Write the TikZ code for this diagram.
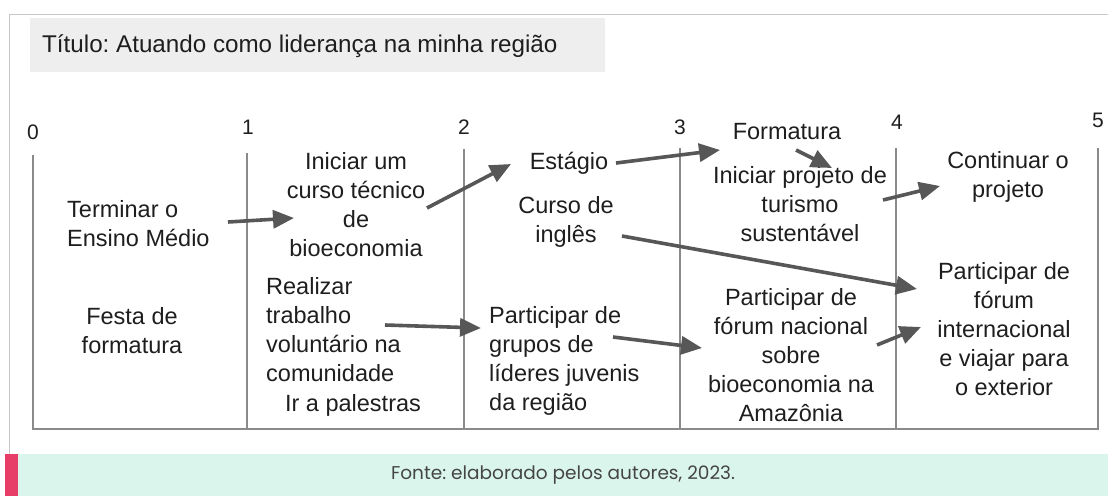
\documentclass[tikz,border=0pt]{standalone}
\usepackage{fontspec}
\setmainfont{Liberation Sans}
\newfontfamily\arialfont{Liberation Sans}
\newfontfamily\footfont{Poppins}
\frenchspacing
\usetikzlibrary{arrows.meta}
\definecolor{txt}{HTML}{1E1E1E}
\definecolor{arr}{HTML}{575757}
\definecolor{grid}{HTML}{8A8A8A}
\definecolor{frame}{HTML}{C8C8C8}
\definecolor{titlebg}{HTML}{EEEEEE}
\definecolor{footbg}{HTML}{DAF6EC}
\definecolor{footbar}{HTML}{E63E66}
\definecolor{foottxt}{HTML}{454545}
\tikzset{
  lbl/.style={inner sep=0pt, text=txt, font=\arialfont\fontsize{23.5}{29}\selectfont},
  lblc/.style={lbl, align=center},
  lbll/.style={lbl, align=left, anchor=west},
  num/.style={inner sep=0pt, text=txt, font=\arialfont\fontsize{21}{24}\selectfont},
  flow/.style={draw=arr, line width=3.6pt, -{Triangle[length=21pt,width=18pt]}},
  tick/.style={draw=grid, line width=1.5pt},
}
\begin{document}
\begin{tikzpicture}[x=1pt,y=-1pt]
\useasboundingbox (0,0) rectangle (1108,496);
% outer frame
\draw[frame, line width=1.5pt] (9.5,454) -- (9.5,14.5) -- (1108,14.5);
% title
\fill[titlebg] (30,18) rectangle (605,72);
\node[lbl, anchor=west, font=\arialfont\fontsize{24.2}{28}\selectfont] (title) at (42,46) {Título: Atuando como liderança na minha região};
% time grid
\foreach \x/\n/\y in {33/0/132, 248/1/127, 464/2/127, 680/3/127, 897/4/122, 1098/5/120}{
  \node[num] (n\n) at (\x,\y) {\n};
}
\draw[tick] (33,155) -- (33,429) -- (1098,429) -- (1098,148);
\foreach \x/\t in {247/153, 464/149, 680/148, 896/148}{
  \draw[tick] (\x,\t) -- (\x,429);
}
% items
\node[lbll] (term) at (67,224) {Terminar o\\Ensino Médio};
\node[lblc] (festa) at (132,331) {Festa de\\formatura};
\node[lblc] (ini) at (356,205) {Iniciar um\\curso técnico\\de\\bioeconomia};
\node[lbll] (real) at (266,330) {Realizar\\trabalho\\voluntário na\\comunidade};
\node[lblc] (ir) at (353,405) {Ir a palestras};
\node[lblc] (est) at (569,163) {Estágio};
\node[lblc] (curso) at (566,222) {Curso de\\inglês};
\node[lbll] (grupos) at (489,361) {Participar de\\grupos de\\líderes juvenis\\da região};
\node[lblc] (form) at (787,132) {Formatura};
\node[lblc] (proj) at (800,204) {Iniciar projeto de\\turismo\\sustentável};
\node[lblc] (nac) at (791,355) {Participar de\\fórum nacional\\sobre\\bioeconomia na\\Amazônia};
\node[lblc] (cont) at (1008,177) {Continuar o\\projeto};
\node[lblc] (inter) at (1004,329) {Participar de\\fórum\\internacional\\e viajar para\\o exterior};
% arrows
\draw[flow] ([shift={(161,-2)}]term.west) -- ([shift={(-62,13)}]ini.center);
\draw[flow] ([shift={(71,3)}]ini.center) -- ([shift={(-58,1)}]est.center);
\draw[flow] ([shift={(47,0)}]est.center) -- ([shift={(-67,18)}]form.center);
\draw[flow] ([shift={(9,18)}]form.center) -- ([shift={(32,-36)}]proj.center);
\draw[flow] ([shift={(83,-4)}]proj.center) -- ([shift={(-68,9)}]cont.center);
\draw[flow] ([shift={(56,14)}]curso.center) -- ([shift={(-87,-40)}]inter.center);
\draw[flow] ([shift={(119,-5)}]real.west) -- ([shift={(-8,-33)}]grupos.west);
\draw[flow] ([shift={(124,-24)}]grupos.west) -- ([shift={(-89,-7)}]nac.center);
\draw[flow] ([shift={(86,-10)}]nac.center) -- ([shift={(-83,-2)}]inter.center);
% footer
\fill[footbg] (18,454) rectangle (1108,496);
\fill[footbar] (5,454) rectangle (18,496);
\node[inner sep=0pt, text=foottxt, font=\footfont\fontsize{18.5}{22}\selectfont] (fonte) at (563,475) {Fonte: elaborado pelos autores, 2023.};
\end{tikzpicture}
\end{document}
